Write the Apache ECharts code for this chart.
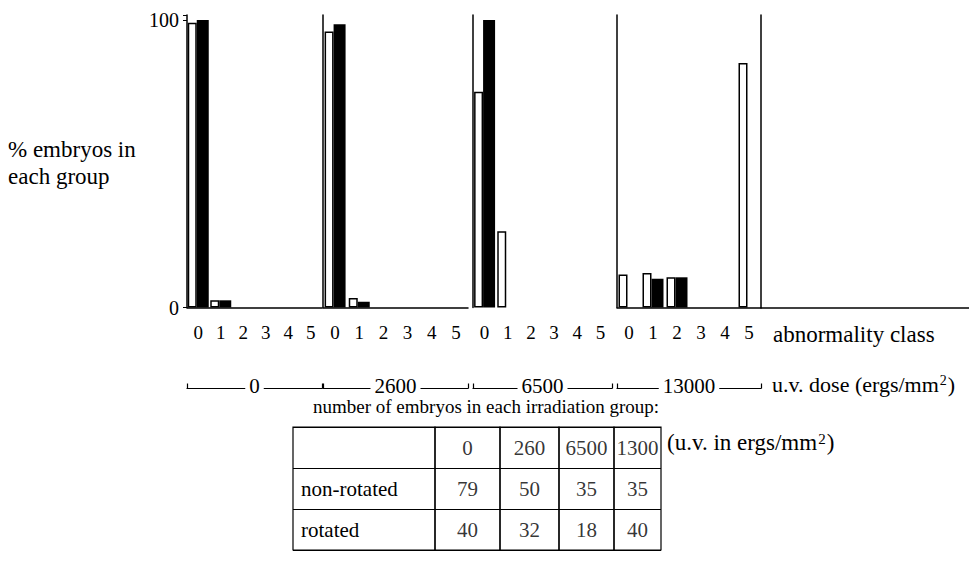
<!DOCTYPE html>
<html>
<head>
<meta charset="utf-8">
<title>% embryos in each group by abnormality class and u.v. dose</title>
<script src="https://cdn.jsdelivr.net/npm/echarts@6/dist/echarts.min.js"></script>
<style>
  html, body { margin: 0; padding: 0; background: #fff; }
  #chart { width: 969px; height: 564px; }
</style>
</head>
<body>
<div id="chart"></div>
<script>
// abnormality classes shown under each panel
const classes = ['0', '1', '2', '3', '4', '5']
// u.v. dose groups (ergs/mm2)
const doseGroups = ['0', '2600', '6500', '13000']

// % embryos per class (white = non-rotated, black = rotated)
const nonRotated0 = [99, 2.5, 0, 0, 0, 0]
const rotated0 = [100, 2.5, 0, 0, 0, 0]
const nonRotated2600 = [96, 3.3, 0, 0, 0, 0]
const rotated2600 = [98.5, 2, 0, 0, 0, 0]
const nonRotated6500 = [75, 26.5, 0, 0, 0, 0]
const rotated6500 = [100, 0, 0, 0, 0, 0]
const nonRotated13000 = [11.5, 12, 10.5, 0, 0, 85]
const rotated13000 = [0, 10, 10.5, 0, 0, 0]

const yTicks = [0, 100]

// table: number of embryos in each irradiation group
const tableDoses = ['0', '260', '6500', '1300']
const tableRows = ['', 'non-rotated', 'rotated']
const nonRotatedCounts = [79, 50, 35, 35]
const rotatedCounts = [40, 32, 18, 40]

const FONT = 'Liberation Serif'
const INK = '#000'

const whiteSets = [nonRotated0, nonRotated2600, nonRotated6500, nonRotated13000]
const blackSets = [rotated0, rotated2600, rotated6500, rotated13000]

// panel layout
const panelLeft = [187, 323, 473, 617]
const panelWidth = [135, 145, 139, 144]
const plotTop = 15
const plotHeight = 292.5

// table layout
const colLeft = [293, 435, 500, 559, 614]
const colWidth = [142, 65, 59, 55, 47]
const tableTop = 427
const tableHeight = 123

const grid = []
const xAxis = []
const yAxis = []
const series = []

panelLeft.forEach((left, i) => {
  grid.push({ left: left, top: plotTop, width: panelWidth[i], height: plotHeight })
  const g = grid.length - 1

  // abnormality class axis
  xAxis.push({
    type: 'category',
    gridIndex: g,
    position: 'bottom',
    data: classes,
    axisLine: { show: i !== 2, onZero: false, lineStyle: { color: INK, width: 1.5 } },
    axisTick: { show: false },
    axisLabel: { color: INK, fontFamily: FONT, fontSize: 19, margin: 15 }
  })
  const classAxis = xAxis.length - 1

  // dose bracket underneath
  xAxis.push({
    type: 'category',
    gridIndex: g,
    position: 'bottom',
    offset: 81,
    data: [doseGroups[i]],
    axisLine: { show: true, onZero: false, lineStyle: { color: INK, width: 1.2 } },
    axisTick: { show: true, inside: true, length: 5, lineStyle: { color: INK, width: 1.2 } },
    axisLabel: {
      color: INK, fontFamily: FONT, fontSize: 21, lineHeight: 21,
      margin: -13, backgroundColor: '#fff', padding: [0, 4]
    }
  })

  yAxis.push({
    type: 'value',
    gridIndex: g,
    min: 0,
    max: 101.7,
    interval: 100,
    axisLine: { show: true, onZero: false, lineStyle: { color: INK, width: 1.5 } },
    axisTick: { show: i === 0, length: 4, lineStyle: { color: INK } },
    axisLabel: {
      show: i === 0, color: INK, fontFamily: FONT, fontSize: 20, margin: 8,
      formatter: v => (yTicks.includes(v) ? String(v) : '')
    },
    splitLine: { show: false }
  })
  const valueAxis = yAxis.length - 1

  if (i === 3) {
    // right-hand rule of the last panel
    yAxis.push({
      type: 'value', gridIndex: g, position: 'right', min: 0, max: 101.7,
      axisLine: { show: true, onZero: false, lineStyle: { color: INK, width: 1.5 } },
      axisTick: { show: false }, axisLabel: { show: false }, splitLine: { show: false }
    })
  }

  series.push({
    type: 'bar',
    name: 'non-rotated',
    xAxisIndex: classAxis,
    yAxisIndex: valueAxis,
    barWidth: 9,
    barGap: '0%',
    data: whiteSets[i].map(v => (v === 0 ? '-' : v)),
    itemStyle: { color: '#fff', borderColor: INK, borderWidth: 1.5 }
  })
  series.push({
    type: 'bar',
    name: 'rotated',
    xAxisIndex: classAxis,
    yAxisIndex: valueAxis,
    barWidth: 12,
    barGap: '0%',
    data: blackSets[i].map(v => (v === 0 ? '-' : v)),
    itemStyle: { color: INK }
  })
})

// baseline continuing to the right edge
grid.push({ left: 761, top: plotTop, width: 208, height: plotHeight })
xAxis.push({
  type: 'category', gridIndex: grid.length - 1, data: [''],
  axisLine: { onZero: false, lineStyle: { color: INK, width: 1.5 } },
  axisTick: { show: false }, axisLabel: { show: false }
})
yAxis.push({ type: 'value', gridIndex: grid.length - 1, show: false })

// table, one grid per column
colLeft.forEach((left, c) => {
  grid.push({
    left: left, top: tableTop, width: colWidth[c], height: tableHeight,
    show: true, borderColor: INK, borderWidth: 1.2, backgroundColor: 'transparent'
  })
  const g = grid.length - 1
  xAxis.push({ type: 'category', gridIndex: g, data: [''], show: false })
  yAxis.push({
    type: 'category',
    gridIndex: g,
    data: tableRows,
    inverse: true,
    axisLine: { show: false },
    axisTick: { show: false },
    axisLabel: c === 0
      ? { inside: true, margin: 8, color: INK, fontFamily: FONT, fontSize: 21 }
      : { show: false },
    splitLine: { show: true, interval: 0, lineStyle: { color: INK, width: 1.2 } }
  })
  if (c > 0) {
    const k = c - 1
    series.push({
      type: 'scatter',
      xAxisIndex: xAxis.length - 1,
      yAxisIndex: yAxis.length - 1,
      symbolSize: 1,
      itemStyle: { color: 'transparent' },
      data: [[0, 0, tableDoses[k]], [0, 1, nonRotatedCounts[k]], [0, 2, rotatedCounts[k]]],
      label: {
        show: true, position: 'inside', color: INK, fontFamily: FONT, fontSize: 21,
        formatter: p => String(p.value[2])
      }
    })
  }
})

const base = { fill: INK, fontFamily: FONT, fontSize: 22 }
const unitRich = {
  a: { fill: INK, fontFamily: FONT, fontSize: 22 },
  s: { fill: INK, fontFamily: FONT, fontSize: 14, verticalAlign: 'top', padding: [0, 1, 0, 1] }
}
const tableUnitRich = {
  a: { fill: INK, fontFamily: FONT, fontSize: 23 },
  s: { fill: INK, fontFamily: FONT, fontSize: 15, verticalAlign: 'top', padding: [0, 1, 0, 1] }
}

const option = {
  animation: false,
  backgroundColor: '#fff',
  grid: grid,
  xAxis: xAxis,
  yAxis: yAxis,
  series: series,
  graphic: [
    { type: 'text', left: 8, top: 136, style: Object.assign({}, base, { text: '% embryos in\neach group', fontSize: 23, lineHeight: 27 }) },
    { type: 'text', left: 773, top: 323, style: Object.assign({}, base, { text: 'abnormality class', fontSize: 23 }) },
    { type: 'text', left: 772, top: 373, style: Object.assign({}, base, { text: '{a|u.v. dose (ergs/mm}{s|2}{a|)}', rich: unitRich }) },
    { type: 'text', left: 313, top: 397, style: Object.assign({}, base, { text: 'number of embryos in each irradiation group:', fontSize: 19 }) },
    { type: 'text', left: 667, top: 431, style: Object.assign({}, base, { text: '{a|(u.v. in ergs/mm}{s|2}{a|)}', rich: tableUnitRich }) }
  ]
}

const myChart = echarts.init(document.getElementById('chart'), null, { renderer: 'svg' })
myChart.setOption(option)
</script>
</body>
</html>
